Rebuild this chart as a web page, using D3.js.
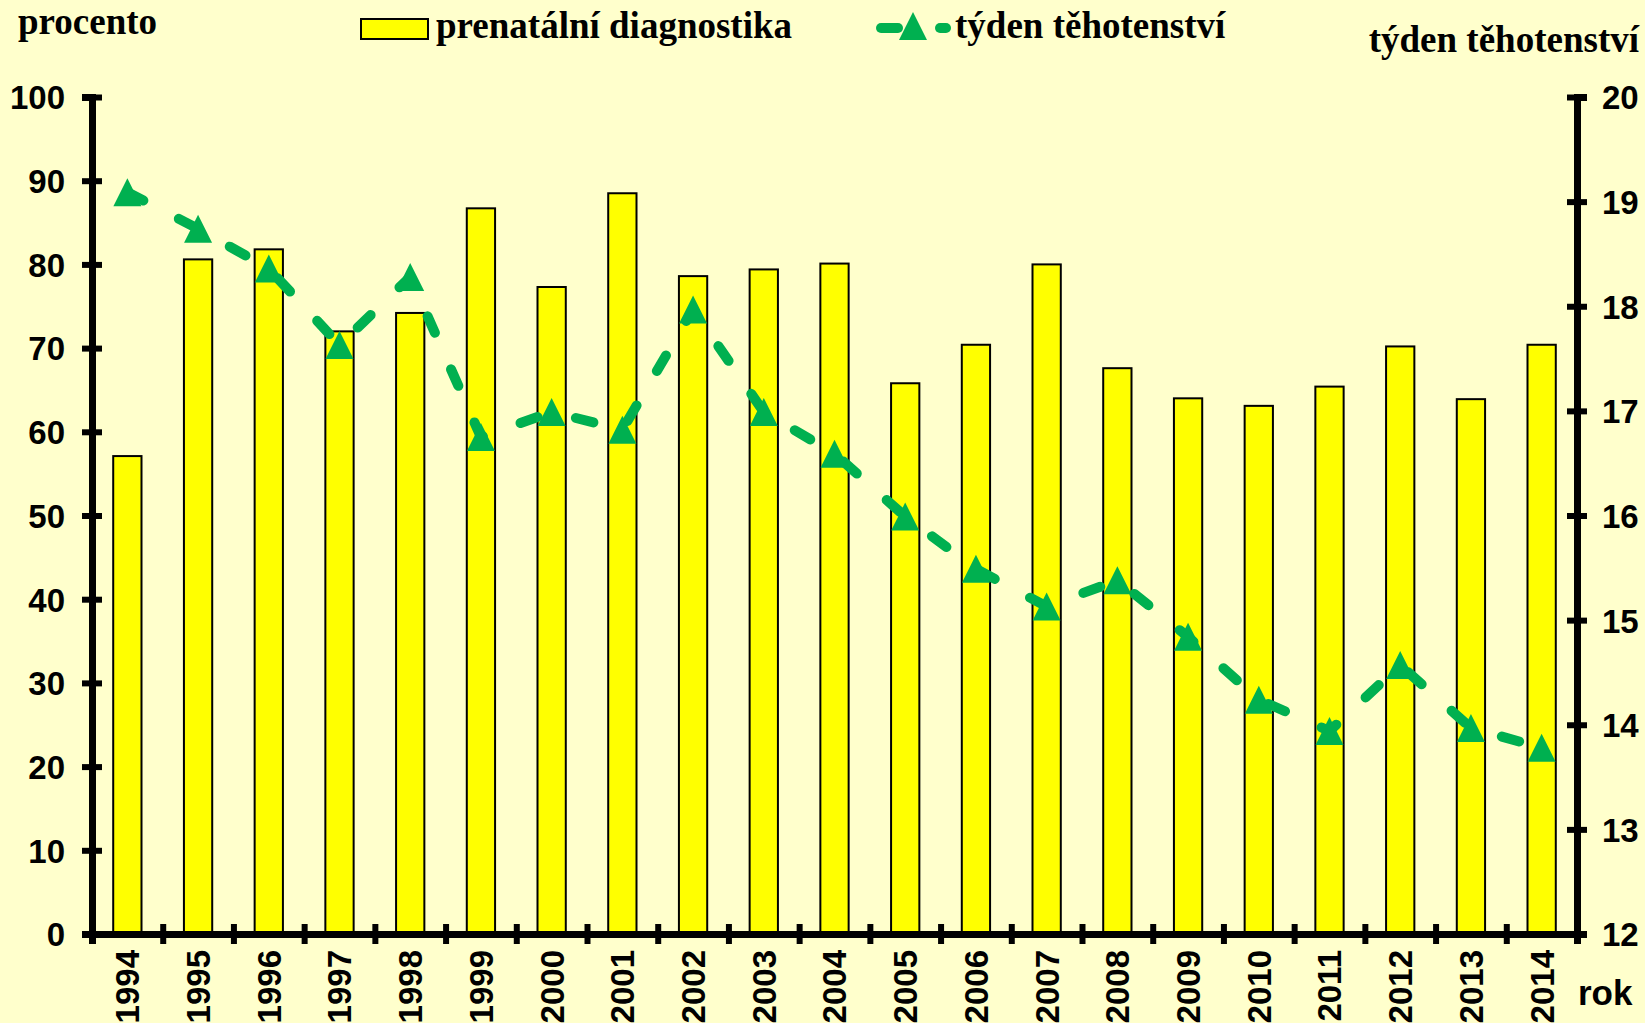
<!DOCTYPE html>
<html>
<head>
<meta charset="utf-8">
<script src="https://cdn.jsdelivr.net/npm/d3@7"></script>
<style>
  html, body { margin: 0; padding: 0; background: #FFFFCC; }
  svg { display: block; }
</style>
</head>
<body>
<svg id="chart" width="1645" height="1023"></svg>
<script>
const years = ["1994","1995","1996","1997","1998","1999","2000","2001","2002","2003","2004","2005","2006","2007","2008","2009","2010","2011","2012","2013","2014"];
const prenatal = [57.1,80.6,81.8,72.0,74.2,86.7,77.3,88.5,78.6,79.4,80.1,65.8,70.4,80.0,67.6,64.0,63.1,65.4,70.2,63.9,70.4];
const weeks = [19.09,18.74,18.36,17.63,18.28,16.75,16.99,16.82,17.97,16.99,16.59,15.99,15.49,15.13,15.38,14.84,14.24,13.94,14.57,13.97,13.78];
const leftTicks = [0,10,20,30,40,50,60,70,80,90,100];
const rightTicks = [12,13,14,15,16,17,18,19,20];

const svg = d3.select("#chart");
const W = 1645, H = 1023;
const plot = {left: 92, right: 1577, top: 97, bottom: 934};
const GREEN = "#00B050";
const SERIF = "'Liberation Serif','Times New Roman',serif";
const SANS = "'Liberation Sans',Arial,sans-serif";

svg.append("rect").attr("width", W).attr("height", H).attr("fill", "#FFFFCC");

const x = d3.scaleBand().domain(years).range([plot.left, plot.right]).paddingInner(0.6).paddingOuter(0.3);
const xb = d3.scaleLinear().domain([0, years.length]).range([plot.left, plot.right]);
const yL = d3.scaleLinear().domain([0, 100]).range([plot.bottom, plot.top]);
const yR = d3.scaleLinear().domain([12, 20]).range([plot.bottom, plot.top]);

// bars
svg.append("g").selectAll("rect").data(prenatal).join("rect")
  .attr("x", (d, i) => x(years[i]))
  .attr("y", d => yL(d))
  .attr("width", x.bandwidth())
  .attr("height", d => yL(0) - yL(d))
  .attr("fill", "#FFFF00")
  .attr("stroke", "#000")
  .attr("stroke-width", 2);

// axes
function styleAxis(g, horizontal) {
  g.select(".domain").attr("stroke", "#000").attr("stroke-width", 7);
  g.selectAll(".tick line").attr("stroke", "#000").attr("stroke-width", 6);
  if (horizontal) g.selectAll(".tick line").attr("y1", -10).attr("y2", 10);
  else g.selectAll(".tick line").attr("x1", -10).attr("x2", 10);
}

const gL = svg.append("g").attr("transform", `translate(${plot.left},0)`)
  .call(d3.axisLeft(yL).tickValues(leftTicks).tickSizeOuter(0).tickSize(10).tickPadding(0));
styleAxis(gL, false);
gL.selectAll(".tick text").attr("x", -27).attr("font-family", SANS).attr("font-weight", "bold")
  .attr("font-size", 33).attr("fill", "#000").attr("dy", "0.36em");

const gR = svg.append("g").attr("transform", `translate(${plot.right},0)`)
  .call(d3.axisRight(yR).tickValues(rightTicks).tickSizeOuter(0).tickSize(10).tickPadding(0));
styleAxis(gR, false);
gR.selectAll(".tick text").attr("x", 25).attr("font-family", SANS).attr("font-weight", "bold")
  .attr("font-size", 33).attr("fill", "#000").attr("dy", "0.36em");

const gX = svg.append("g").attr("transform", `translate(0,${plot.bottom})`)
  .call(d3.axisBottom(xb).tickValues(d3.range(years.length + 1)).tickFormat("").tickSizeOuter(0).tickSize(10));
styleAxis(gX, true);

// year labels
svg.append("g").selectAll("text").data(years).join("text")
  .attr("transform", d => `translate(${x(d) + x.bandwidth() / 2},950) rotate(-90)`)
  .attr("text-anchor", "end")
  .attr("dy", "0.36em")
  .attr("font-family", SANS).attr("font-weight", "bold").attr("font-size", 33).attr("fill", "#000")
  .text(d => d);

// line
const line = d3.line().x((d, i) => x(years[i]) + x.bandwidth() / 2).y(d => yR(d));
svg.append("path").datum(weeks).attr("d", line)
  .attr("fill", "none").attr("stroke", GREEN).attr("stroke-width", 10)
  .attr("stroke-linecap", "round").attr("stroke-dasharray", "18,40");

const tri = "M0,-14L14,14L-14,14Z";
svg.append("g").selectAll("path").data(weeks).join("path")
  .attr("d", tri)
  .attr("transform", (d, i) => `translate(${x(years[i]) + x.bandwidth() / 2},${yR(d)})`)
  .attr("fill", GREEN);

// titles
svg.append("text").attr("x", 18).attr("y", 34).attr("font-family", SERIF).attr("font-weight", "bold")
  .attr("font-size", 37).attr("fill", "#000").text("procento");
svg.append("text").attr("x", 1639).attr("y", 52).attr("text-anchor", "end").attr("font-family", SERIF)
  .attr("font-weight", "bold").attr("font-size", 37).attr("fill", "#000").text("týden těhotenství");
svg.append("text").attr("x", 1578).attr("y", 1005).attr("font-family", SANS).attr("font-weight", "bold")
  .attr("font-size", 35).attr("fill", "#000").text("rok");

// legend
const lg = svg.append("g");
lg.append("rect").attr("x", 361).attr("y", 19).attr("width", 67).attr("height", 20)
  .attr("fill", "#FFFF00").attr("stroke", "#000").attr("stroke-width", 2);
lg.append("text").attr("x", 436).attr("y", 38).attr("font-family", SERIF).attr("font-weight", "bold")
  .attr("font-size", 37).attr("fill", "#000").text("prenatální diagnostika");
lg.append("line").attr("x1", 881).attr("x2", 898).attr("y1", 28).attr("y2", 28)
  .attr("stroke", GREEN).attr("stroke-width", 10).attr("stroke-linecap", "round");
lg.append("line").attr("x1", 940).attr("x2", 946).attr("y1", 28).attr("y2", 28)
  .attr("stroke", GREEN).attr("stroke-width", 10).attr("stroke-linecap", "round");
lg.append("path").attr("d", tri).attr("transform", "translate(913,26)").attr("fill", GREEN);
lg.append("text").attr("x", 955).attr("y", 38).attr("font-family", SERIF).attr("font-weight", "bold")
  .attr("font-size", 37).attr("fill", "#000").text("týden těhotenství");
</script>
</body>
</html>
